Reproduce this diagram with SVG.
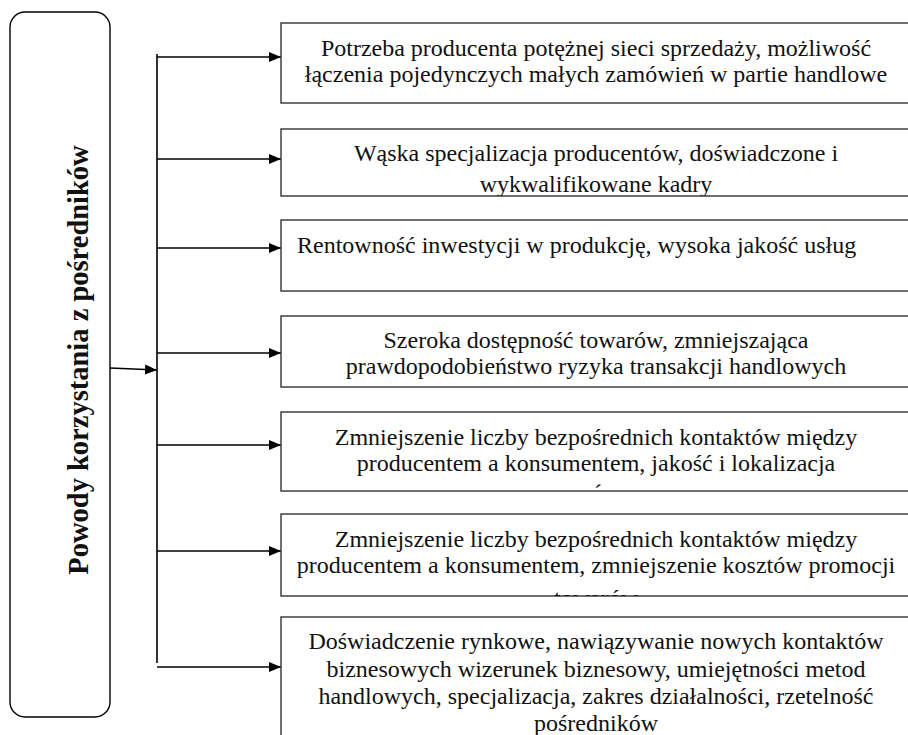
<svg xmlns="http://www.w3.org/2000/svg" width="908" height="735" viewBox="0 0 908 735">
<style>
.box{fill:#fff;stroke:#333;stroke-width:1.4}
.t{font-family:"Liberation Serif","Times New Roman",serif;font-size:24px;fill:#111;text-anchor:middle}
.tl{text-anchor:start}
.title{font-family:"Liberation Serif","Times New Roman",serif;font-size:28.5px;font-weight:bold;fill:#111;text-anchor:middle}
.c{stroke:#000;stroke-width:1.6;fill:none}
</style>
<defs>
<marker id="ah" markerUnits="userSpaceOnUse" markerWidth="12" markerHeight="10" refX="12" refY="5" orient="auto">
<path d="M0,0 L12,5 L0,10 z" fill="#000"/>
</marker>
<clipPath id="c1"><rect x="281" y="23" width="640" height="80"/></clipPath>
<clipPath id="c2"><rect x="281" y="129" width="640" height="67"/></clipPath>
<clipPath id="c3"><rect x="281" y="220" width="640" height="71"/></clipPath>
<clipPath id="c4"><rect x="281" y="316" width="640" height="71"/></clipPath>
<clipPath id="c5"><rect x="281" y="412" width="640" height="79"/></clipPath>
<clipPath id="c6"><rect x="281" y="514" width="640" height="82"/></clipPath>
<clipPath id="c7"><rect x="281" y="617" width="640" height="130"/></clipPath>
</defs>

<g id="source">
<rect class="box" x="10" y="12" width="100" height="705" rx="15" ry="15" style="stroke:#000"/>
<text class="title" transform="translate(88,360) rotate(-90)">Powody korzystania z pośredników</text>
</g>

<g id="connectors">
<line class="c" x1="110" y1="368" x2="157" y2="370" marker-end="url(#ah)"/>
<line class="c" x1="157" y1="54" x2="157" y2="663"/>
<line class="c" x1="157" y1="57" x2="281" y2="57" marker-end="url(#ah)"/>
<line class="c" x1="157" y1="159" x2="281" y2="159" marker-end="url(#ah)"/>
<line class="c" x1="157" y1="248" x2="281" y2="248" marker-end="url(#ah)"/>
<line class="c" x1="157" y1="353" x2="281" y2="353" marker-end="url(#ah)"/>
<line class="c" x1="157" y1="445" x2="281" y2="445" marker-end="url(#ah)"/>
<line class="c" x1="157" y1="551" x2="281" y2="551" marker-end="url(#ah)"/>
<line class="c" x1="157" y1="667" x2="281" y2="667" marker-end="url(#ah)"/>
</g>

<g id="n1">
<rect class="box" x="281" y="23" width="640" height="80"/>
<g clip-path="url(#c1)">
<text class="t" x="596" y="56">Potrzeba producenta potężnej sieci sprzedaży, możliwość</text>
<text class="t" x="596" y="82">łączenia pojedynczych małych zamówień w partie handlowe</text>
</g>
</g>

<g id="n2">
<rect class="box" x="281" y="129" width="640" height="67"/>
<g clip-path="url(#c2)">
<text class="t" x="596" y="161">Wąska specjalizacja producentów, doświadczone i</text>
<text class="t" x="596" y="192">wykwalifikowane kadry</text>
</g>
</g>

<g id="n3">
<rect class="box" x="281" y="220" width="640" height="71"/>
<g clip-path="url(#c3)">
<text class="t tl" x="297" y="253">Rentowność inwestycji w produkcję, wysoka jakość usług</text>
</g>
</g>

<g id="n4">
<rect class="box" x="281" y="316" width="640" height="71"/>
<g clip-path="url(#c4)">
<text class="t" x="596" y="348">Szeroka dostępność towarów, zmniejszająca</text>
<text class="t" x="596" y="374">prawdopodobieństwo ryzyka transakcji handlowych</text>
</g>
</g>

<g id="n5">
<rect class="box" x="281" y="412" width="640" height="79"/>
<g clip-path="url(#c5)">
<text class="t" x="596" y="445">Zmniejszenie liczby bezpośrednich kontaktów między</text>
<text class="t" x="596" y="471">producentem a konsumentem, jakość i lokalizacja</text>
<text class="t" x="598" y="501">´</text>
</g>
</g>

<g id="n6">
<rect class="box" x="281" y="514" width="640" height="82"/>
<g clip-path="url(#c6)">
<text class="t" x="596" y="547">Zmniejszenie liczby bezpośrednich kontaktów między</text>
<text class="t" x="596" y="573">producentem a konsumentem, zmniejszenie kosztów promocji</text>
<text class="t" x="596" y="606">towarów</text>
</g>
</g>

<g id="n7">
<rect class="box" x="281" y="617" width="640" height="130"/>
<g clip-path="url(#c7)">
<text class="t" x="596" y="649">Doświadczenie rynkowe, nawiązywanie nowych kontaktów</text>
<text class="t" x="596" y="677">biznesowych wizerunek biznesowy, umiejętności metod</text>
<text class="t" x="596" y="704">handlowych, specjalizacja, zakres działalności, rzetelność</text>
<text class="t" x="596" y="731">pośredników</text>
</g>
</g>
</svg>
